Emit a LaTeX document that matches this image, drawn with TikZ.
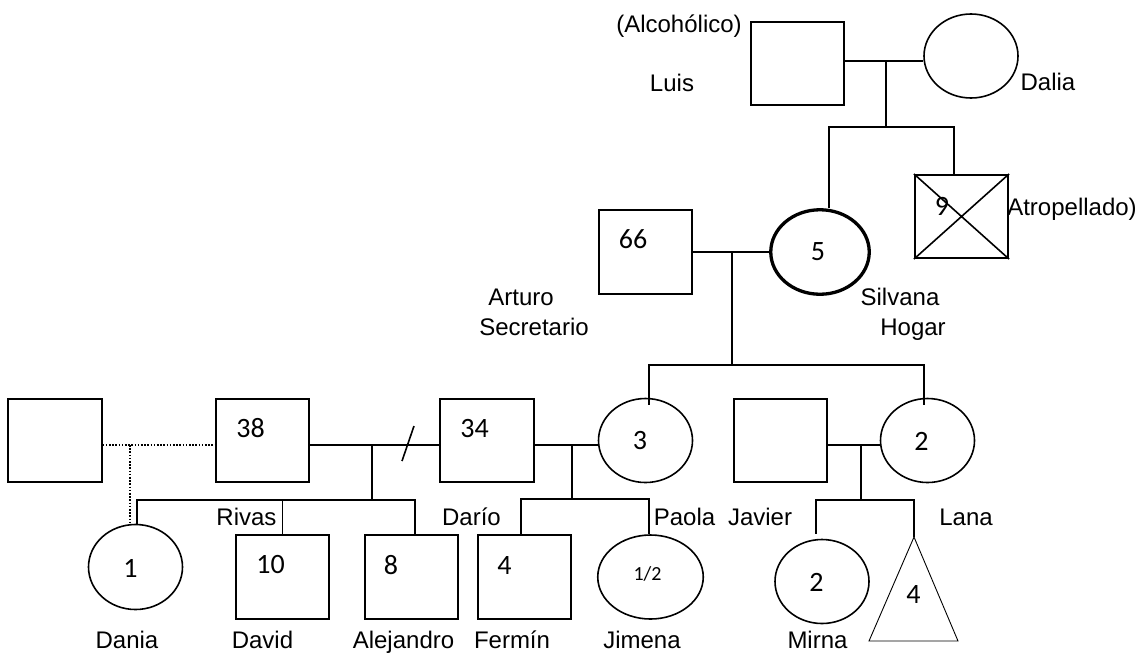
\documentclass[tikz,border=0pt]{standalone}
\usepackage{fontspec}
\setmainfont{Liberation Sans}
\newfontfamily\numfont{Carlito}
\usepackage{tikz}
\usetikzlibrary{shapes.geometric}
\tikzset{
  varon/.style={draw,rectangle,line width=1.6pt,minimum width=93.5pt,
    minimum height=83.5pt,inner sep=0pt},
  mujer/.style={draw,ellipse,line width=1.6pt,minimum width=94pt,
    minimum height=84pt,inner sep=0pt},
  nombre/.style={font=\fontsize{24}{28}\selectfont,anchor=base,inner sep=0pt},
  edad/.style={font=\numfont\fontsize{28}{32}\selectfont,inner sep=0pt},
  edadchica/.style={font=\numfont\fontsize{20}{24}\selectfont,inner sep=0pt},
  lazo/.style={line width=1.6pt},
  lazoroto/.style={line width=1.6pt,dash pattern=on 1.6pt off 1.6pt}
}

\begin{document}
\begin{tikzpicture}[x=1pt,y=-1pt]
  \useasboundingbox (0,0) rectangle (1142,654);

  % abuelos
  \node[varon] (luis) at (797.5,63.5) {};
  \node[mujer] (dalia) at (971,56) {};
  \node[nombre] (t-alcoholico) at (679,32) {(Alcohólico)};
  \node[nombre] (t-luis) at (672,91) {Luis};
  \node[nombre] (t-dalia) at (1048,90) {Dalia};

  % hijos de Luis y Dalia
  \node[mujer,line width=3.3pt,minimum width=98.5pt,minimum height=84.5pt]
    (silvana) at (820,252) {};
  \node[edad] (e-silvana) at (818,252) {5};
  \node[varon] (hermano) at (961.5,216.5) {};
  \draw[lazo] (hermano.north west) -- (hermano.south east)
    (hermano.north east) -- (hermano.south west);
  \node[edad] (e-hermano) at (942,206) {9};
  \node[nombre] (t-atropellado) at (1072,215) {Atropellado)};
  \node[nombre] (t-silvana) at (900,305) {Silvana};
  \node[nombre] (t-hogar) at (913,335) {Hogar};

  \node[varon] (arturo) at (645.5,252) {};
  \node[edad] (e-arturo) at (633,239) {66};
  \node[nombre] (t-arturo) at (521,305) {Arturo};
  \node[nombre] (t-secretario) at (534,335) {Secretario};

  % tercera generacion
  \node[varon] (desconocido) at (55,440.5) {};
  \node[varon] (rivas) at (262.5,440.5) {};
  \node[edad] (e-rivas) at (250.5,428.5) {38};
  \node[varon] (dario) at (487,440.5) {};
  \node[edad] (e-dario) at (474.5,428.5) {34};
  \node[mujer] (paola) at (645.5,440.5) {};
  \node[edad] (e-paola) at (640,441) {3};
  \node[varon] (javier) at (780.5,440.5) {};
  \node[mujer] (lana) at (927.5,440.5) {};
  \node[edad] (e-lana) at (921.5,441) {2};
  \node[nombre] (t-rivas) at (246.5,525) {Rivas};
  \node[nombre] (t-dario) at (471.5,525) {Darío};
  \node[nombre] (t-paola) at (684.5,525) {Paola};
  \node[nombre] (t-javier) at (760,525) {Javier};
  \node[nombre] (t-lana) at (966,525) {Lana};

  % nietos
  \node[mujer,minimum height=85pt] (dania) at (135.5,567) {};
  \node[edad] (e-dania) at (130.5,568) {1};
  \node[varon] (david) at (282.5,577) {};
  \node[edad] (e-david) at (270.5,564.5) {10};
  \node[varon] (alejandro) at (411.5,577) {};
  \node[edad] (e-alejandro) at (391,565.5) {8};
  \node[varon] (fermin) at (524.5,577) {};
  \node[edad] (e-fermin) at (504.5,565) {4};
  \node[mujer,minimum width=105.5pt] (jimena) at (650.5,577) {};
  \node[edadchica] (e-jimena) at (647.5,573.5) {1/2};
  \node[mujer] (mirna) at (822,581.5) {};
  \node[edad] (e-mirna) at (816.5,582.5) {2};
  \coordinate (gest) at (914,537);
  \draw[line width=0.9pt] (gest) -- ++(-45,104) -- ++(89,0) -- cycle;
  \node[edad] (e-gest) at (913.5,594) {4};
  \node[nombre] (t-dania) at (127,648) {Dania};
  \node[nombre] (t-david) at (262.5,648) {David};
  \node[nombre] (t-alejandro) at (403.5,648) {Alejandro};
  \node[nombre] (t-fermin) at (512,648) {Fermín};
  \node[nombre] (t-jimena) at (642,648) {Jimena};
  \node[nombre] (t-mirna) at (817.5,648) {Mirna};

  % lineas
  \coordinate (uA) at (886,61);
  \coordinate (dA) at (886,127);
  \draw[lazo] (luis.east |- uA) -- (dalia.west |- uA);
  \draw[lazo] (uA) -- (dA);
  \draw[lazo] ([xshift=9pt]silvana.north) |- (dA) -| ([xshift=-7.5pt]hermano.north);

  \coordinate (uB) at (732,252);
  \coordinate (dB) at (732,365);
  \draw[lazo] (arturo.east |- uB) -- (silvana.west |- uB);
  \draw[lazo] (uB) -- (dB);
  \draw[lazo] ([xshift=3.5pt,yshift=-7pt]paola.north) |- (dB)
    -| ([xshift=-3.5pt,yshift=-7pt]lana.north);

  \coordinate (uC) at (572,445);
  \coordinate (dC) at (572,499);
  \draw[lazo] (dario.east |- uC) -- (paola.west |- uC);
  \draw[lazo] (uC) -- (dC);
  \draw[lazo] ([xshift=-3.5pt]fermin.north) |- (dC) -| ([xshift=-1.5pt]jimena.north);

  \coordinate (uD) at (372,445);
  \coordinate (dD) at (372,500);
  \draw[lazo] (rivas.east |- uD) -- (dario.west |- uD);
  \draw[lazo] ([shift={(30,16)}]uD) -- ([shift={(42,-19)}]uD);
  \draw[lazo] (uD) -- (dD);
  \draw[lazo] ([xshift=1.5pt]dania.north) |- (dD) -| ([xshift=3.5pt]alejandro.north);
  \draw[lazo] (david.north) -- (david.north |- dD);

  \coordinate (uE) at (130,445);
  \draw[lazoroto] (desconocido.east |- uE) -- (rivas.west |- uE);
  \draw[lazoroto] (uE) -- (uE |- dania.north);

  \coordinate (uF) at (861,445);
  \coordinate (dF) at (861,500);
  \draw[lazo] (javier.east |- uF) -- (lana.west |- uF);
  \draw[lazo] (uF) -- (dF);
  \draw[lazo] ([xshift=-6pt,yshift=5pt]mirna.north) |- (dF) -| (gest);
\end{tikzpicture}
\end{document}
